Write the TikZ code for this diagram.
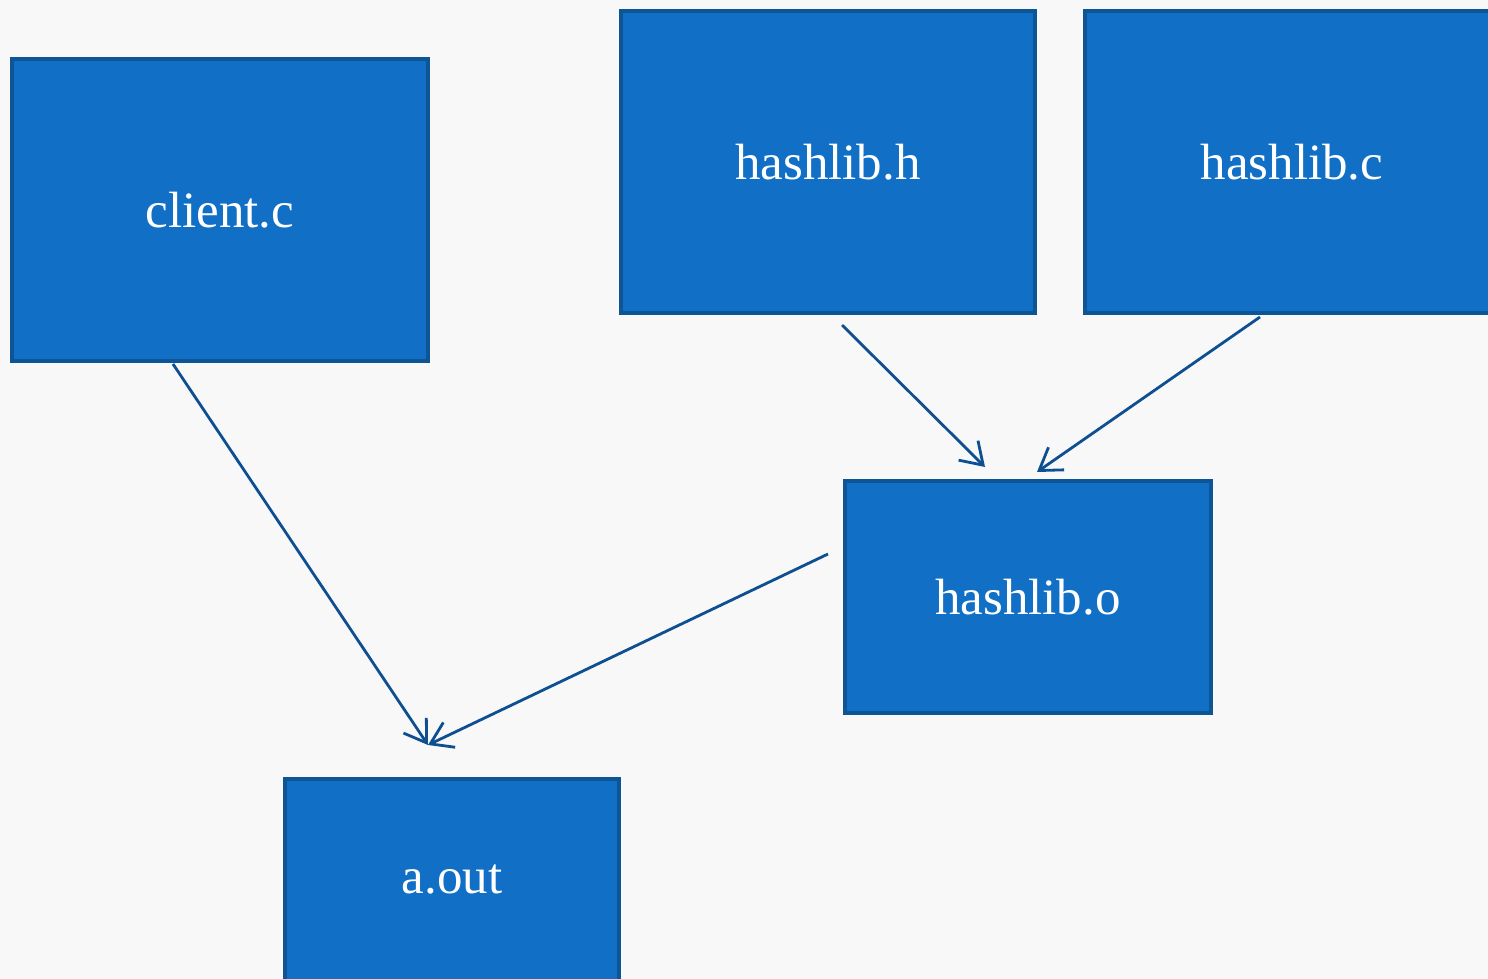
\documentclass[tikz,border=0pt]{standalone}
\usepackage{fontspec}
\setmainfont{Liberation Serif}
\usetikzlibrary{arrows.meta}

\definecolor{boxfill}{HTML}{1170C6}
\definecolor{boxedge}{HTML}{0E5596}
\definecolor{linkblue}{HTML}{0E4F92}
\definecolor{pagebg}{HTML}{F8F8F8}

\tikzset{
    filebox/.style={rectangle, draw=boxedge, fill=boxfill, line width=0.08cm,
        anchor=north west, text=white, inner sep=0pt,
        font=\fontsize{29}{34}\selectfont},
    link/.style={->, draw=linkblue, line width=0.056cm}
}

\begin{document}
\begin{tikzpicture}[x=0.02cm, y=-0.02cm, >={Straight Barb[length=0.42cm, width=0.55cm]}]
        % Page and its margins
        \fill[pagebg] (0,0) rectangle (1488,979);
        \useasboundingbox (0,0) rectangle (1488,979);
        \clip (0,0) rectangle (1488,979);

        % Source files
        \node[filebox, minimum width=8.32cm, minimum height=6.04cm] (client) at (10,57) {client.c};
        \node[filebox, minimum width=8.28cm, minimum height=6.04cm] (header) at (619,9) {hashlib.h};
        \node[filebox, minimum width=8.28cm, minimum height=6.04cm] (source) at (1083,9) {hashlib.c};

        % Build products
        \node[filebox, minimum width=7.32cm, minimum height=4.64cm] (object) at (843,479) {hashlib.o};
        \node[filebox, minimum width=6.68cm, minimum height=4.04cm] (aout) at (283,777) {a.out};

        % Free ends of the connectors
        \coordinate (clientfoot) at (173,364);
        \coordinate (headerfoot) at (842,325);
        \coordinate (sourcefoot) at (1260,317);
        \coordinate (objleft) at (828,554);
        \coordinate (objtopl) at (985,467);
        \coordinate (objtopr) at (1037,472);
        \coordinate (aouttop) at (428,745);

        % Connectors
        \draw[link] (headerfoot) -- (objtopl);
        \draw[link] (sourcefoot) -- (objtopr);
        \draw[link] (clientfoot) -- (aouttop);
        \draw[link] (objleft) -- (aouttop);
    \end{tikzpicture}
\end{document}
